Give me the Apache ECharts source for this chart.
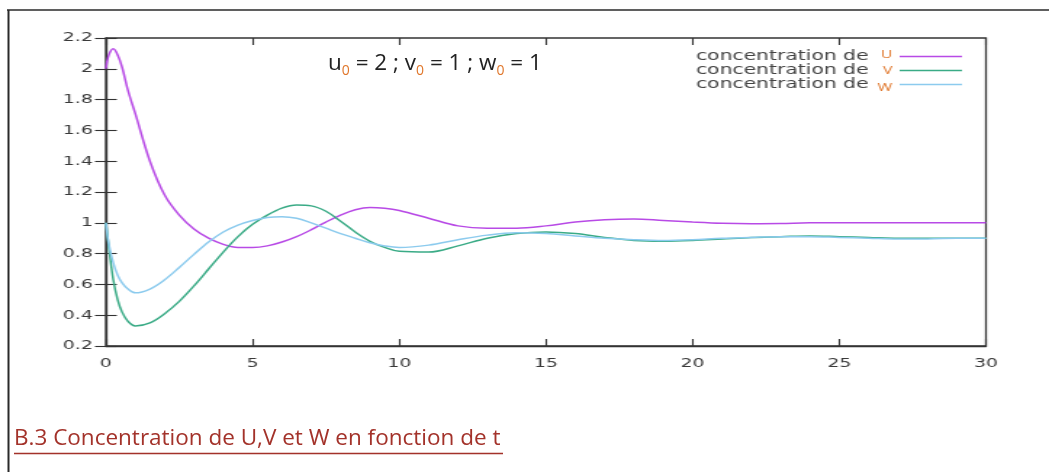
<!DOCTYPE html>
<html>
<head>
<meta charset="UTF-8">
<title>Concentration de U, V et W</title>
<script src="https://cdn.jsdelivr.net/npm/echarts@6/dist/echarts.min.js"></script>
<style>
  html, body { margin: 0; padding: 0; background: #fff; }
  /* the gnuplot picture is stretched sideways in the source, so the plot is drawn narrow and scaled */
  #plot { position: absolute; left: 0; top: 0; width: 723px; height: 472px; transform: scaleX(1.451); transform-origin: 0 0; }
  #deco { position: absolute; left: 0; top: 0; width: 1049px; height: 472px; }
</style>
</head>
<body>
<div id="plot"></div>
<div id="deco"></div>
<script>
// temps
var tVals = [0, 0.1, 0.25, 0.4, 0.55, 0.75, 1,
  1.5, 2, 2.5, 3, 3.5, 4, 4.5, 5, 5.5, 6, 6.5, 7, 7.5, 8, 8.5, 9, 9.5, 10,
  11, 12, 13, 14, 15, 16, 17, 18, 19, 20, 21, 22, 23, 24, 25, 26, 27, 28, 29, 30];
// concentration de U
var uVals = [2.0, 2.09, 2.13, 2.09, 2.01, 1.86, 1.71,
  1.40, 1.18, 1.05, 0.96, 0.90, 0.86, 0.84, 0.84, 0.85, 0.875, 0.91, 0.955, 1.005, 1.05, 1.085, 1.10, 1.095, 1.08,
  1.03, 0.98, 0.965, 0.965, 0.98, 1.005, 1.02, 1.025, 1.015, 1.005, 0.997, 0.994, 0.995, 1.0, 1.0, 1.0, 1.0, 1.0, 1.0, 1.0];
// concentration de V
var vVals = [1.0, 0.84, 0.63, 0.50, 0.42, 0.36, 0.33,
  0.35, 0.41, 0.49, 0.59, 0.70, 0.81, 0.91, 0.99, 1.05, 1.095, 1.115, 1.11, 1.075, 1.01, 0.94, 0.88, 0.84, 0.815,
  0.81, 0.85, 0.90, 0.93, 0.94, 0.93, 0.905, 0.885, 0.88, 0.885, 0.895, 0.905, 0.91, 0.915, 0.91, 0.905, 0.9, 0.9, 0.9, 0.9];
// concentration de W
var wVals = [1.0, 0.86, 0.74, 0.66, 0.61, 0.57, 0.545,
  0.57, 0.63, 0.71, 0.795, 0.875, 0.94, 0.985, 1.015, 1.035, 1.04, 1.03, 1.0, 0.965, 0.93, 0.90, 0.87, 0.85, 0.84,
  0.855, 0.89, 0.92, 0.935, 0.93, 0.915, 0.90, 0.89, 0.885, 0.89, 0.90, 0.905, 0.91, 0.91, 0.905, 0.9, 0.895, 0.895, 0.9, 0.9];

var seriesNames = ['concentration de U', 'concentration de V', 'concentration de W'];
var seriesLetters = ['U', 'V', 'W'];
var seriesColors = ['#b84ae6', '#3aab86', '#8ccbee'];

function pairs(vals) {
  return tVals.map(function (t, i) { return [t, vals[i]]; });
}

var axisFont = { fontFamily: 'DejaVu Sans', fontSize: 13, color: '#3a3a3a' };

var plot = echarts.init(document.getElementById('plot'));
plot.setOption({
  backgroundColor: '#fff',
  animation: false,
  grid: { left: 73, right: 43.5, top: 38, bottom: 126, show: true, borderColor: '#333', borderWidth: 1.3 },
  legend: {
    orient: 'vertical',
    right: 55,
    top: 44,
    align: 'right',
    icon: 'rect',
    itemWidth: 43,
    itemHeight: 1.6,
    itemGap: 0,
    data: seriesNames,
    formatter: function (name) {
      var k = seriesNames.indexOf(name);
      var st = k === 0 ? 'u' : (k === 1 ? 'v' : 'w');
      return '{a|concentration de }{' + st + '|' + seriesLetters[k] + '}';
    },
    textStyle: {
      rich: {
        a: { fontFamily: 'DejaVu Sans', fontSize: 14, color: '#444', lineHeight: 15 },
        u: { fontFamily: 'Open Sans', fontSize: 11, color: '#e0762a', width: 12, verticalAlign: 'top' },
        v: { fontFamily: 'Open Sans', fontSize: 11, color: '#e0762a', width: 12 },
        w: { fontFamily: 'Open Sans', fontSize: 11, color: '#e0762a', width: 12, verticalAlign: 'bottom', padding: [6, 0, 0, 0] }
      }
    }
  },
  xAxis: [{
    type: 'value', min: 0, max: 30, interval: 5,
    axisLine: { show: true, lineStyle: { color: '#333', width: 1.3 } },
    axisTick: { show: true, inside: true, length: 7, lineStyle: { color: '#333', width: 1.1 } },
    axisLabel: Object.assign({ margin: 11 }, axisFont),
    splitLine: { show: false }
  }, {
    type: 'value', min: 0, max: 30, interval: 5, position: 'top',
    axisLine: { show: false },
    axisTick: { show: true, inside: true, length: 7, lineStyle: { color: '#333', width: 1.1 } },
    axisLabel: { show: false },
    splitLine: { show: false }
  }],
  yAxis: [{
    type: 'value', min: 0.2, max: 2.2, interval: 0.2,
    axisLine: { show: true, lineStyle: { color: '#333', width: 1.3 } },
    axisTick: { show: true, inside: true, length: 7.5, lineStyle: { color: '#333', width: 1.1 } },
    axisLabel: Object.assign({ margin: 9 }, axisFont),
    splitLine: { show: false }
  }, {
    type: 'value', min: 0.2, max: 2.2, interval: 0.2, position: 'right',
    axisLine: { show: false },
    axisTick: { show: true, inside: true, length: 7.5, lineStyle: { color: '#333', width: 1.1 } },
    axisLabel: { show: false },
    splitLine: { show: false }
  }],
  series: [uVals, vVals, wVals].map(function (vals, k) {
    return {
      name: seriesNames[k],
      type: 'line',
      smooth: 0.35,
      symbol: 'none',
      color: seriesColors[k],
      lineStyle: { width: 1.5, color: seriesColors[k] },
      data: pairs(vals)
    };
  })
});

// cadre, titre et legende du document
var deco = echarts.init(document.getElementById('deco'));
deco.setOption({
  backgroundColor: 'transparent',
  animation: false,
  graphic: [
    { type: 'line', shape: { x1: 7, y1: 10, x2: 1049, y2: 10 }, style: { stroke: '#2a2a2a', lineWidth: 1.6 } },
    { type: 'line', shape: { x1: 8.5, y1: 10, x2: 8.5, y2: 472 }, style: { stroke: '#2a2a2a', lineWidth: 2 } },
    {
      type: 'text', left: 328, top: 52,
      style: {
        text: '{t|u}{s|0}{t| = 2 ; v}{s|0}{t| = 1 ; w}{s|0}{t| = 1}',
        rich: {
          t: { fontFamily: 'Open Sans', fontSize: 22.5, fill: '#222', lineHeight: 30 },
          s: { fontFamily: 'Open Sans', fontSize: 14, fill: '#e0762a', lineHeight: 16, verticalAlign: 'bottom' }
        }
      }
    },
    {
      type: 'text', left: 14, top: 427,
      style: { text: 'B.3 Concentration de U,V et W en fonction de t', fontFamily: 'Open Sans', fontSize: 22.5, fill: '#a3322a' }
    },
    { type: 'line', shape: { x1: 14, y1: 453.5, x2: 503, y2: 453.5 }, style: { stroke: '#a3322a', lineWidth: 1.4 } }
  ]
});
</script>
</body>
</html>
